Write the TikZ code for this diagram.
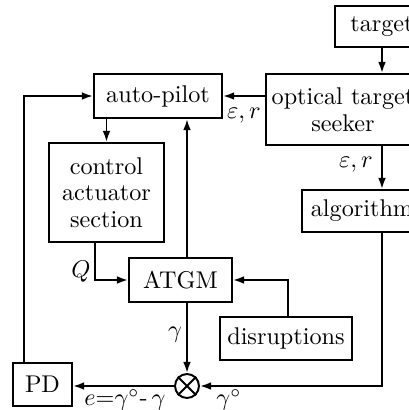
\documentclass[tikz,border=0pt]{standalone}
\usetikzlibrary{arrows.meta}
\begin{document}
\begin{tikzpicture}[x=0.413pt,y=-0.413pt,line width=0.8pt,
  box/.style={draw,inner sep=1pt,align=center,font=\fontsize{10}{11}\selectfont},
  arr/.style={-{Latex[length=4.6pt,width=3.2pt]}}]
\clip (0,0) rectangle (409,410);
% blocks
\node[box,minimum width=38.8pt,minimum height=16.9pt] (target) at (382,26.5) {target};
\node[box,minimum width=63.6pt,minimum height=29.3pt] (seeker) at (343,109.5) {optical target\\seeker};
\node[box,minimum width=52.9pt,minimum height=18.2pt] (autopilot) at (158,96) {auto-pilot};
\node[box,minimum width=47.5pt,minimum height=40.9pt] (control) at (106.5,192.5) {control\\actuator\\section};
\node[box,minimum width=49.6pt,minimum height=17.3pt] (algorithm) at (362,211) {algorithm};
\node[box,minimum width=42.5pt,minimum height=18.2pt] (ATGM) at (180.5,280) {ATGM};
\node[box,minimum width=54.5pt,minimum height=17.8pt] (disruptions) at (286,338.5) {disruptions};
\node[box,minimum width=24.4pt,minimum height=17.8pt] (PD) at (42.5,384.5) {PD};
\node[draw,circle,minimum size=9.9pt,inner sep=0pt] (sum) at (187,386) {};
\draw (sum.45) -- (sum.225) (sum.135) -- (sum.315);
% labels
\node (er1) at (244,116) {$\varepsilon, r$};
\node (er2) at (356,165) {$\varepsilon, r$};
\node (Q) at (81,272) {$Q$};
\node (gam) at (175,335) {$\gamma$};
\node (gamo) at (229,400) {$\gamma^\circ$};
\node (err) at (125,400) {$e$=$\gamma^\circ$-\,$\gamma$};
% connections
\coordinate (fb) at (24,0);
\coordinate (ctl) at (95,0);
\coordinate (dis) at (288,0);
\draw[arr] (target.south) -- (target.south |- seeker.north);
\draw[arr] (seeker.west |- autopilot.east) -- (autopilot.east);
\draw[arr] (target.south |- seeker.south) -- (target.south |- algorithm.north);
\draw[arr] (target.south |- algorithm.south) |- (sum.east);
\draw[arr] (sum.west) -- (sum.west -| PD.east);
\draw[arr] (fb |- PD.north) |- (autopilot.west);
\draw[arr] (control.north |- autopilot.south) -- (control.north);
\draw[arr] (ctl |- control.south) |- (ATGM.west);
\draw[arr] (sum |- ATGM.north) -- (sum |- autopilot.south);
\draw[arr] (sum |- ATGM.south) -- (sum.north);
\draw[arr] (dis |- disruptions.north) |- (ATGM.east);
\end{tikzpicture}
\end{document}
